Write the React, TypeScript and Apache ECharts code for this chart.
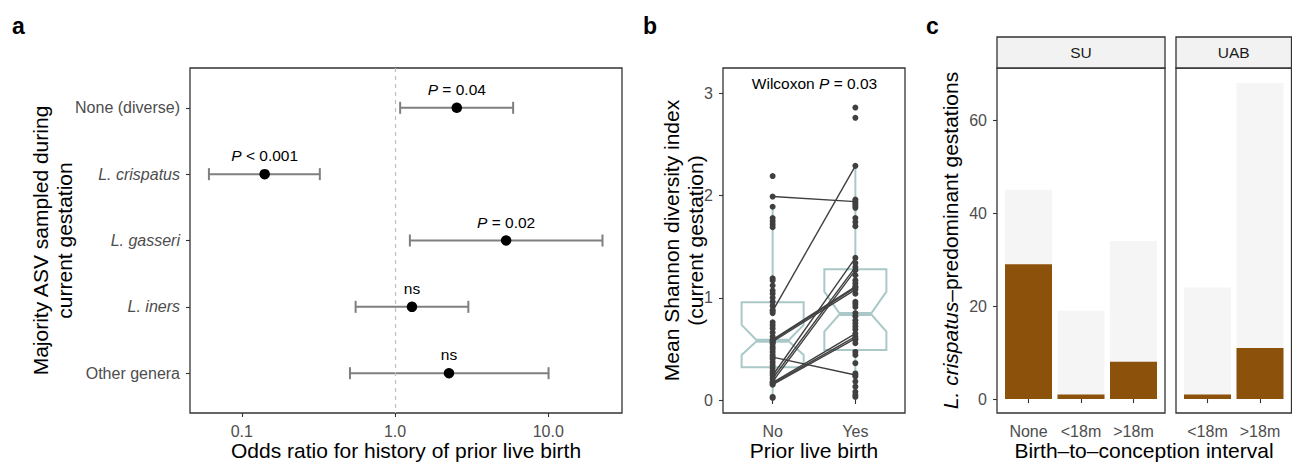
import React, { useEffect, useRef } from 'react';
import * as echarts from 'echarts';

const FONT = '"Liberation Sans", Arial, Helvetica, sans-serif';
const TICK_COLOR = '#4D4D4D';
const AXIS_COLOR = '#333333';
const TEAL = '#A9C8C7';
const POINT_COLOR = '#404040';
const BROWN = '#8C510A';
const LIGHT = '#F5F5F5';

// ---------- Panel a ----------
const asvCategories = ['None (diverse)', 'L. crispatus', 'L. gasseri', 'L. iners', 'Other genera'];
const asvItalic = [false, true, true, true, false];
const oddsRatio = [2.53, 0.141, 5.31, 1.29, 2.25];
const ciLow = [1.08, 0.061, 1.25, 0.553, 0.508];
const ciHigh = [5.9, 0.323, 22.6, 3.01, 10.05];
const pLabels = ['P = 0.04', 'P < 0.001', 'P = 0.02', 'ns', 'ns'];
const oddsTicks = [0.1, 1, 10];

// ---------- Panel b ----------
const birthGroups = ['No', 'Yes'];
const noShannon = [2.19, 1.99, 1.89, 1.78, 1.75, 1.72, 1.69, 1.19, 1.17, 1.12, 1.07, 1.04, 1.0, 0.96, 0.92, 0.88, 0.87, 0.85, 0.76, 0.73, 0.7, 0.66, 0.62, 0.59, 0.58, 0.57, 0.56, 0.55, 0.52, 0.5, 0.47, 0.44, 0.42, 0.4, 0.37, 0.34, 0.31, 0.28, 0.26, 0.24, 0.21, 0.18, 0.17, 0.16, 0.15, 0.03, 0.02];
const yesShannon = [2.86, 2.76, 2.29, 1.96, 1.94, 1.92, 1.9, 1.88, 1.78, 1.74, 1.7, 1.39, 1.34, 1.3, 1.27, 1.22, 1.17, 1.14, 1.11, 1.1, 1.08, 1.04, 0.96, 0.94, 0.91, 0.85, 0.82, 0.78, 0.75, 0.72, 0.69, 0.65, 0.62, 0.6, 0.59, 0.555, 0.47, 0.44, 0.36, 0.26, 0.245, 0.23, 0.18, 0.13, 0.08, 0.05, 0.03];
const pairedShannon = [[1.99, 1.94], [0.87, 2.29], [0.59, 1.11], [0.58, 1.1], [0.57, 1.08], [0.42, 0.245], [0.24, 1.39], [0.21, 1.3], [0.18, 1.27], [0.17, 0.65], [0.16, 0.62], [0.15, 0.6]];
// [lower whisker, Q1, notch low, median, notch high, Q3, upper whisker]
const noBox = [0.02, 0.32, 0.44, 0.58, 0.734, 0.956, 1.89];
const yesBox = [0.026, 0.489, 0.669, 0.841, 1.06, 1.279, 2.29];
const shannonTicks = [0, 1, 2, 3];
const wilcoxonLabel = 'Wilcoxon P = 0.03';

// ---------- Panel c ----------
const suIntervals = ['None', '<18m', '>18m'];
const suTotal = [45, 19, 34];
const suCrispatus = [29, 1, 8];
const uabIntervals = ['<18m', '>18m'];
const uabTotal = [24, 68];
const uabCrispatus = [1, 11];
const gestationTicks = [0, 20, 40, 60];

const BOX_WIDTH = 0.75;

function richP(s: string) {
  const idx = s.search(/\bP\b/);
  if (idx < 0) return `{n|${s}}`;
  const pre = s.slice(0, idx);
  const post = s.slice(idx + 1);
  return (pre ? `{n|${pre}}` : '') + `{i|P}` + (post ? `{n|${post}}` : '');
}

function richStyles(size: number, color: string) {
  return {
    n: { fontSize: size, color, fontFamily: FONT },
    i: { fontSize: size, color, fontFamily: FONT, fontStyle: 'italic' },
    it: { fontSize: size, color, fontFamily: FONT, fontStyle: 'italic' },
  };
}

const tick = (values: number[]) => ({
  show: true,
  length: 4,
  customValues: values,
  lineStyle: { color: AXIS_COLOR, width: 1.1 },
});

const label = (values: number[], formatter: any, extra: any = {}) => ({
  show: true,
  customValues: values,
  formatter,
  color: TICK_COLOR,
  fontSize: 16,
  fontFamily: FONT,
  margin: 10,
  ...extra,
});

const gridBase = {
  show: true,
  borderColor: AXIS_COLOR,
  borderWidth: 1.3,
  backgroundColor: 'transparent',
  containLabel: false,
  outerBoundsMode: 'none',
};

function textEl(text: string, x: number, y: number, size: number, opts: any = {}) {
  return {
    type: 'text',
    x,
    y,
    rotation: opts.rotation || 0,
    silent: true,
    style: {
      text,
      fontSize: size,
      fontFamily: FONT,
      fontWeight: opts.fontWeight || 'normal',
      fill: opts.fill || '#000',
      align: opts.align || 'center',
      textAlign: opts.align || 'center',
      verticalAlign: 'middle',
      textVerticalAlign: 'middle',
      lineHeight: opts.lineHeight,
      rich: opts.rich,
    },
  };
}

function buildOption(): any {
  return {
    animation: false,
    textStyle: { fontFamily: FONT },
    grid: [
      { ...gridBase, left: 190, top: 68, width: 432, height: 345 },
      { ...gridBase, left: 723, top: 68, width: 182, height: 345 },
      { ...gridBase, left: 997, top: 68, width: 168, height: 345 },
      { ...gridBase, left: 1176, top: 68, width: 115.5, height: 345 },
    ],
    xAxis: [
      {
        gridIndex: 0,
        type: 'log',
        logBase: 10,
        min: 0.0459,
        max: 30.3,
        axisLine: { show: false },
        splitLine: { show: false },
        axisTick: tick(oddsTicks),
        axisLabel: label(oddsTicks, (v: number) => Number(v).toFixed(1)),
      },
      {
        gridIndex: 1,
        type: 'value',
        min: 0.4,
        max: 2.6,
        axisLine: { show: false },
        splitLine: { show: false },
        axisTick: tick([1, 2]),
        axisLabel: label([1, 2], (v: number) => birthGroups[Math.round(v) - 1] || ''),
      },
      {
        gridIndex: 2,
        type: 'value',
        min: 0.4,
        max: 3.6,
        axisLine: { show: false },
        splitLine: { show: false },
        axisTick: tick([1, 2, 3]),
        axisLabel: label([1, 2, 3], (v: number) => suIntervals[Math.round(v) - 1] || ''),
      },
      {
        gridIndex: 3,
        type: 'value',
        min: 0.4,
        max: 2.6,
        axisLine: { show: false },
        splitLine: { show: false },
        axisTick: tick([1, 2]),
        axisLabel: label([1, 2], (v: number) => uabIntervals[Math.round(v) - 1] || ''),
      },
    ],
    yAxis: [
      {
        gridIndex: 0,
        type: 'value',
        inverse: true,
        min: 0.4,
        max: 5.6,
        axisLine: { show: false },
        splitLine: { show: false },
        axisTick: tick([1, 2, 3, 4, 5]),
        axisLabel: label([1, 2, 3, 4, 5], (v: number) => {
          const i = Math.round(v) - 1;
          const name = asvCategories[i] || '';
          return asvItalic[i] ? `{it|${name}}` : `{n|${name}}`;
        }, { rich: richStyles(16, TICK_COLOR) }),
      },
      {
        gridIndex: 1,
        type: 'value',
        min: -0.127,
        max: 3.247,
        axisLine: { show: false },
        splitLine: { show: false },
        axisTick: tick(shannonTicks),
        axisLabel: label(shannonTicks, (v: number) => String(v)),
      },
      {
        gridIndex: 2,
        type: 'value',
        min: -3.0,
        max: 71.2,
        axisLine: { show: false },
        splitLine: { show: false },
        axisTick: tick(gestationTicks),
        axisLabel: label(gestationTicks, (v: number) => String(v)),
      },
      {
        gridIndex: 3,
        type: 'value',
        min: -3.0,
        max: 71.2,
        show: false,
        splitLine: { show: false },
      },
    ],
    series: [
      // Panel a: error bars
      {
        type: 'custom',
        xAxisIndex: 0,
        yAxisIndex: 0,
        encode: { x: [1, 2], y: 0 },
        data: asvCategories.map((_, i) => [i + 1, ciLow[i], ciHigh[i]]),
        markLine: {
          silent: true,
          symbol: ['none', 'none'],
          label: { show: false },
          lineStyle: { color: '#BEBEBE', type: [4, 4], width: 1.2 },
          data: [{ xAxis: 1 }],
        },
        renderItem: (params: any, api: any) => {
          const row = api.value(0);
          const p1 = api.coord([api.value(1), row]);
          const p2 = api.coord([api.value(2), row]);
          const st = { stroke: '#7F7F7F', lineWidth: 2 };
          const cap = 6;
          return {
            type: 'group',
            children: [
              { type: 'line', shape: { x1: p1[0], y1: p1[1], x2: p2[0], y2: p2[1] }, style: st },
              { type: 'line', shape: { x1: p1[0], y1: p1[1] - cap, x2: p1[0], y2: p1[1] + cap }, style: st },
              { type: 'line', shape: { x1: p2[0], y1: p2[1] - cap, x2: p2[0], y2: p2[1] + cap }, style: st },
            ],
          };
        },
      },
      // Panel a: points with annotations
      {
        type: 'scatter',
        xAxisIndex: 0,
        yAxisIndex: 0,
        symbolSize: 10.5,
        itemStyle: { color: '#000', opacity: 1 },
        data: oddsRatio.map((v, i) => [v, i + 1]),
        label: {
          show: true,
          position: 'top',
          distance: 5,
          color: '#000',
          fontSize: 15.5,
          fontFamily: FONT,
          formatter: (p: any) => richP(pLabels[p.dataIndex]),
          rich: richStyles(15.5, '#000'),
        },
      },
      // Panel b: notched boxes
      {
        type: 'custom',
        xAxisIndex: 1,
        yAxisIndex: 1,
        encode: { x: 0, y: [1, 2, 3, 4, 5, 6, 7] },
        data: [noBox, yesBox].map((s, i) => [i + 1, ...s]),
        renderItem: (params: any, api: any) => {
          const x = api.value(0);
          const [lw, q1, nl, med, nh, q3, uw] = [1, 2, 3, 4, 5, 6, 7].map((d) => api.value(d));
          const h = BOX_WIDTH / 2;
          const P = (dx: number, v: number) => api.coord([x + dx, v]);
          const pts = [P(-h, q3), P(-h, nh), P(-h / 2, med), P(-h, nl), P(-h, q1), P(h, q1), P(h, nl), P(h / 2, med), P(h, nh), P(h, q3)];
          const c3 = P(0, q3), cu = P(0, uw), c1 = P(0, q1), cl = P(0, lw);
          const ml = P(-h / 2, med), mr = P(h / 2, med);
          const st = { stroke: TEAL, lineWidth: 2, fill: 'none' };
          return {
            type: 'group',
            children: [
              { type: 'line', shape: { x1: c3[0], y1: c3[1], x2: cu[0], y2: cu[1] }, style: st },
              { type: 'line', shape: { x1: c1[0], y1: c1[1], x2: cl[0], y2: cl[1] }, style: st },
              { type: 'polygon', shape: { points: pts }, style: { ...st, lineJoin: 'miter' } },
              { type: 'line', shape: { x1: ml[0], y1: ml[1], x2: mr[0], y2: mr[1] }, style: { stroke: TEAL, lineWidth: 4 } },
            ],
          };
        },
      },
      // Panel b: paired lines
      {
        type: 'custom',
        xAxisIndex: 1,
        yAxisIndex: 1,
        encode: { x: [0, 2], y: [1, 3] },
        data: pairedShannon.map(([a, b]) => [1, a, 2, b]),
        renderItem: (params: any, api: any) => {
          const p1 = api.coord([api.value(0), api.value(1)]);
          const p2 = api.coord([api.value(2), api.value(3)]);
          return { type: 'line', shape: { x1: p1[0], y1: p1[1], x2: p2[0], y2: p2[1] }, style: { stroke: POINT_COLOR, lineWidth: 1.4 } };
        },
      },
      {
        type: 'scatter',
        xAxisIndex: 1,
        yAxisIndex: 1,
        symbolSize: 6,
        itemStyle: { color: POINT_COLOR, opacity: 1 },
        data: noShannon.map((v) => [1, v]),
      },
      {
        type: 'scatter',
        xAxisIndex: 1,
        yAxisIndex: 1,
        symbolSize: 6,
        itemStyle: { color: POINT_COLOR, opacity: 1 },
        data: yesShannon.map((v) => [2, v]),
      },
      // Panel c: bars
      {
        type: 'bar',
        xAxisIndex: 2,
        yAxisIndex: 2,
        barWidth: 47,
        barGap: '-100%',
        itemStyle: { color: LIGHT },
        data: suTotal.map((v, i) => [i + 1, v]),
      },
      {
        type: 'bar',
        xAxisIndex: 2,
        yAxisIndex: 2,
        barWidth: 47,
        barGap: '-100%',
        itemStyle: { color: BROWN },
        data: suCrispatus.map((v, i) => [i + 1, v]),
      },
      {
        type: 'bar',
        xAxisIndex: 3,
        yAxisIndex: 3,
        barWidth: 47,
        barGap: '-100%',
        itemStyle: { color: LIGHT },
        data: uabTotal.map((v, i) => [i + 1, v]),
      },
      {
        type: 'bar',
        xAxisIndex: 3,
        yAxisIndex: 3,
        barWidth: 47,
        barGap: '-100%',
        itemStyle: { color: BROWN },
        data: uabCrispatus.map((v, i) => [i + 1, v]),
      },
    ],
    graphic: [
      textEl('a', 12, 26, 23, { align: 'left', fontWeight: 'bold' }),
      textEl('b', 643, 26, 23, { align: 'left', fontWeight: 'bold' }),
      textEl('c', 926, 26, 23, { align: 'left', fontWeight: 'bold' }),
      textEl('Majority ASV sampled during\ncurrent gestation', 52, 240.5, 21, { rotation: Math.PI / 2, lineHeight: 24 }),
      textEl('Mean Shannon diversity index\n(current gestation)', 683, 240.5, 21, { rotation: Math.PI / 2, lineHeight: 24 }),
      textEl('{it|L. crispatus}{n|–predominant gestations}', 950, 240.5, 21, { rotation: Math.PI / 2, rich: richStyles(21, '#000') }),
      textEl(richP(wilcoxonLabel), 814.5, 83.5, 15.5, { rich: richStyles(15.5, '#000') }),
      textEl('Odds ratio for history of prior live birth', 406, 450, 21),
      textEl('Prior live birth', 814, 450, 21),
      textEl('Birth–to–conception interval', 1144, 450, 21),
      {
        type: 'rect',
        silent: true,
        shape: { x: 997, y: 37, width: 168, height: 31 },
        style: { fill: '#F2F2F2', stroke: AXIS_COLOR, lineWidth: 1.3 },
      },
      {
        type: 'rect',
        silent: true,
        shape: { x: 1176, y: 37, width: 115.5, height: 31 },
        style: { fill: '#F2F2F2', stroke: AXIS_COLOR, lineWidth: 1.3 },
      },
      textEl('SU', 1081, 52.5, 15.5, { fill: '#1A1A1A' }),
      textEl('UAB', 1233.75, 52.5, 15.5, { fill: '#1A1A1A' }),
    ],
  };
}

export default function App() {
  const ref = useRef<HTMLDivElement>(null);
  useEffect(() => {
    if (!ref.current) return;
    const chart = echarts.init(ref.current, null, { renderer: 'svg' });
    chart.setOption(buildOption());
    return () => chart.dispose();
  }, []);
  return <div ref={ref} style={{ position: 'absolute', left: 0, top: 0, width: 1292, height: 463 }} />;
}
